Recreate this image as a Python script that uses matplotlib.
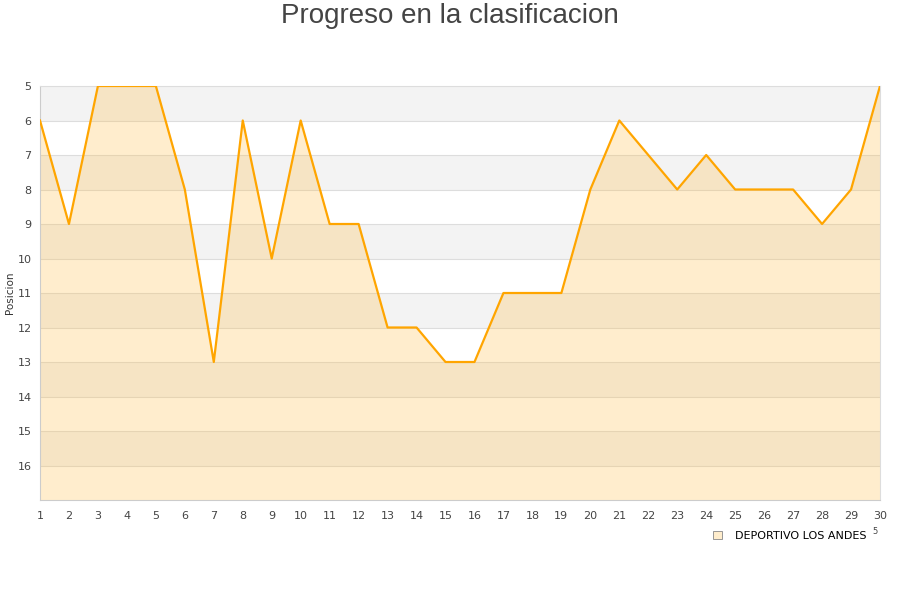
import matplotlib.pyplot as plt
import matplotlib.patches as mpatches

jornadas = list(range(1, 31))
posiciones = [6, 9, 5, 5, 5, 8, 13, 6, 10, 6, 9, 9, 12, 12, 13, 13,
              11, 11, 11, 8, 6, 7, 8, 7, 8, 8, 8, 9, 8, 5]
y_ticks = list(range(5, 17))
equipo = "DEPORTIVO LOS ANDES"

fig = plt.figure(figsize=(9, 6), dpi=100)
ax = fig.add_axes([40 / 900, 100 / 600, 840 / 900, 414 / 600])

# bandas grises alternas
for y0 in range(5, 17, 2):
    ax.axhspan(y0, y0 + 1, color="#f3f3f3", zorder=0, lw=0)
for y in range(6, 17):
    ax.axhline(y, color="#dddddd", lw=0.8, zorder=1)

ax.fill_between(jornadas, posiciones, 17, color="#ffc04d", alpha=0.28,
                lw=0, zorder=2)
ax.plot(jornadas, posiciones, color="#ffa500", lw=1.6, zorder=3)

ax.set_xlim(1, 30)
ax.set_ylim(17, 5)
ax.set_xticks(jornadas)
ax.set_yticks(y_ticks)
ax.tick_params(length=0, labelsize=8, colors="#444444", pad=6)
ax.tick_params(axis="x", pad=8)
ax.spines["left"].set_color("#cccccc")
ax.spines["bottom"].set_color("#cccccc")
ax.spines["top"].set_color("#dddddd")
ax.spines["right"].set_color("#dddddd")

fig.text(10 / 900, 1 - 293 / 600, "Posicion", rotation=90, ha="center",
         va="center", fontsize=7.5, color="#333333")

fig.text(0.5, 1 - 16 / 600, "Progreso en la clasificacion", ha="center",
         va="center", fontsize=20, color="#444444", family="Liberation Sans")

handle = mpatches.Patch(facecolor="#ffedcc", edgecolor="#888888", lw=0.6)
fig.legend([handle], [equipo], loc="center", bbox_to_anchor=(790 / 900, 1 - 536 / 600),
           frameon=False, fontsize=8, handlelength=0.8, handleheight=0.8,
           handletextpad=1.2)
fig.text(875 / 900, 1 - 532 / 600, "5", fontsize=6, color="#444444",
         ha="center", va="center")

fig.savefig("out.png", dpi=100)
